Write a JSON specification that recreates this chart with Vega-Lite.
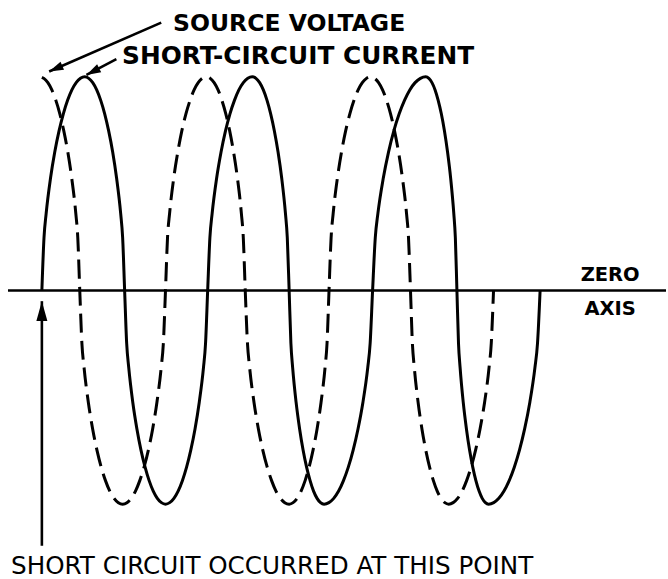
{
  "$schema": "https://vega.github.io/schema/vega-lite/v6.json",
  "width": 668,
  "height": 579,
  "autosize": {"type": "fit", "contains": "padding"},
  "padding": 0,
  "background": "white",
  "config": {"view": {"stroke": null}},
  "datasets": {
    "current": [
      {"t":0,"v":0},{"t":4.6,"v":0.247},{"t":9.3,"v":0.361},{"t":18.6,"v":0.524},{"t":27.9,"v":0.648},{"t":37.2,"v":0.747},{"t":46.5,"v":0.827},{"t":55.7,"v":0.89},{"t":65.0,"v":0.939},{"t":74.3,"v":0.973},{"t":83.6,"v":0.993},{"t":92.9,"v":1},
      {"t":101.5,"v":0.993},{"t":110.2,"v":0.973},{"t":118.8,"v":0.939},{"t":127.5,"v":0.89},{"t":136.1,"v":0.827},{"t":144.7,"v":0.747},{"t":153.4,"v":0.648},{"t":162.0,"v":0.524},{"t":170.7,"v":0.361},{"t":175.0,"v":0.247},{"t":179.3,"v":0},
      {"t":183.7,"v":-0.247},{"t":188.2,"v":-0.361},{"t":197.0,"v":-0.524},{"t":205.9,"v":-0.648},{"t":214.7,"v":-0.747},{"t":223.6,"v":-0.827},{"t":232.4,"v":-0.89},{"t":241.3,"v":-0.939},{"t":250.1,"v":-0.973},{"t":259.0,"v":-0.993},{"t":267.8,"v":-1},
      {"t":276.9,"v":-0.993},{"t":286.1,"v":-0.973},{"t":295.2,"v":-0.939},{"t":304.4,"v":-0.89},{"t":313.5,"v":-0.827},{"t":322.6,"v":-0.747},{"t":331.8,"v":-0.648},{"t":340.9,"v":-0.524},{"t":350.1,"v":-0.361},{"t":354.6,"v":-0.247},{"t":359.2,"v":0},
      {"t":364.0,"v":0.247},{"t":368.9,"v":0.361},{"t":378.5,"v":0.524},{"t":388.2,"v":0.648},{"t":397.8,"v":0.747},{"t":407.5,"v":0.827},{"t":417.2,"v":0.89},{"t":426.8,"v":0.939},{"t":436.5,"v":0.973},{"t":446.1,"v":0.993},{"t":455.8,"v":1},
      {"t":463.8,"v":0.993},{"t":471.8,"v":0.973},{"t":479.8,"v":0.939},{"t":487.8,"v":0.89},{"t":495.7,"v":0.827},{"t":503.7,"v":0.747},{"t":511.7,"v":0.648},{"t":519.7,"v":0.524},{"t":527.7,"v":0.361},{"t":531.7,"v":0.247},{"t":535.7,"v":0},
      {"t":539.5,"v":-0.247},{"t":543.3,"v":-0.361},{"t":550.8,"v":-0.524},{"t":558.4,"v":-0.648},{"t":565.9,"v":-0.747},{"t":573.5,"v":-0.827},{"t":581.1,"v":-0.89},{"t":588.6,"v":-0.939},{"t":596.2,"v":-0.973},{"t":603.7,"v":-0.993},{"t":611.3,"v":-1},
      {"t":621.8,"v":-0.993},{"t":632.3,"v":-0.973},{"t":642.9,"v":-0.939},{"t":653.4,"v":-0.89},{"t":663.9,"v":-0.827},{"t":674.4,"v":-0.747},{"t":684.9,"v":-0.648},{"t":695.5,"v":-0.524},{"t":706.0,"v":-0.361},{"t":711.2,"v":-0.247},{"t":716.5,"v":0},
      {"t":722.3,"v":0.247},{"t":728.0,"v":0.361},{"t":739.5,"v":0.524},{"t":751.0,"v":0.648},{"t":762.5,"v":0.747},{"t":774.1,"v":0.827},{"t":785.6,"v":0.89},{"t":797.1,"v":0.939},{"t":808.6,"v":0.973},{"t":820.1,"v":0.993},{"t":831.6,"v":1},
      {"t":838.4,"v":0.993},{"t":845.1,"v":0.973},{"t":851.9,"v":0.939},{"t":858.6,"v":0.89},{"t":865.4,"v":0.827},{"t":872.2,"v":0.747},{"t":878.9,"v":0.648},{"t":885.7,"v":0.524},{"t":892.4,"v":0.361},{"t":895.8,"v":0.247},{"t":899.2,"v":0},
      {"t":902.6,"v":-0.247},{"t":906.1,"v":-0.361},{"t":912.9,"v":-0.524},{"t":919.8,"v":-0.648},{"t":926.6,"v":-0.747},{"t":933.5,"v":-0.827},{"t":940.3,"v":-0.89},{"t":947.2,"v":-0.939},{"t":954.0,"v":-0.973},{"t":960.9,"v":-0.993},{"t":967.7,"v":-1},
      {"t":978.9,"v":-0.993},{"t":990.0,"v":-0.973},{"t":1001.2,"v":-0.939},{"t":1012.4,"v":-0.89},{"t":1023.5,"v":-0.827},{"t":1034.7,"v":-0.747},{"t":1045.9,"v":-0.648},{"t":1057.1,"v":-0.524},{"t":1068.2,"v":-0.361},{"t":1073.8,"v":-0.247},{"t":1079.4,"v":0}
    ],
    "voltage": [
      {"t":0,"v":0.998},{"t":4.3,"v":0.993},{"t":13.0,"v":0.973},{"t":21.6,"v":0.939},{"t":30.3,"v":0.89},{"t":38.9,"v":0.827},{"t":47.5,"v":0.747},{"t":56.2,"v":0.648},{"t":64.8,"v":0.524},{"t":73.5,"v":0.361},{"t":77.8,"v":0.247},{"t":82.1,"v":0},
      {"t":86.7,"v":-0.247},{"t":91.4,"v":-0.361},{"t":100.7,"v":-0.524},{"t":110.0,"v":-0.648},{"t":119.3,"v":-0.747},{"t":128.6,"v":-0.827},{"t":137.8,"v":-0.89},{"t":147.1,"v":-0.939},{"t":156.4,"v":-0.973},{"t":165.7,"v":-0.993},{"t":175.0,"v":-1},
      {"t":184.3,"v":-0.993},{"t":193.6,"v":-0.973},{"t":202.8,"v":-0.939},{"t":212.1,"v":-0.89},{"t":221.4,"v":-0.827},{"t":230.7,"v":-0.747},{"t":240.0,"v":-0.648},{"t":249.2,"v":-0.524},{"t":258.5,"v":-0.361},{"t":263.2,"v":-0.247},{"t":267.8,"v":0},
      {"t":272.2,"v":0.247},{"t":276.7,"v":0.361},{"t":285.5,"v":0.524},{"t":294.4,"v":0.648},{"t":303.2,"v":0.747},{"t":312.1,"v":0.827},{"t":321.0,"v":0.89},{"t":329.8,"v":0.939},{"t":338.7,"v":0.973},{"t":347.5,"v":0.993},{"t":356.4,"v":1},
      {"t":364.8,"v":0.993},{"t":373.2,"v":0.973},{"t":381.7,"v":0.939},{"t":390.1,"v":0.89},{"t":398.5,"v":0.827},{"t":406.9,"v":0.747},{"t":415.3,"v":0.648},{"t":423.8,"v":0.524},{"t":432.2,"v":0.361},{"t":436.4,"v":0.247},{"t":440.6,"v":0},
      {"t":445.4,"v":-0.247},{"t":450.1,"v":-0.361},{"t":459.6,"v":-0.524},{"t":469.1,"v":-0.648},{"t":478.6,"v":-0.747},{"t":488.2,"v":-0.827},{"t":497.7,"v":-0.89},{"t":507.2,"v":-0.939},{"t":516.7,"v":-0.973},{"t":526.2,"v":-0.993},{"t":535.7,"v":-1},
      {"t":544.3,"v":-0.993},{"t":553.0,"v":-0.973},{"t":561.6,"v":-0.939},{"t":570.3,"v":-0.89},{"t":578.9,"v":-0.827},{"t":587.5,"v":-0.747},{"t":596.2,"v":-0.648},{"t":604.8,"v":-0.524},{"t":613.5,"v":-0.361},{"t":617.8,"v":-0.247},{"t":622.1,"v":0},
      {"t":626.6,"v":0.247},{"t":631.1,"v":0.361},{"t":640.1,"v":0.524},{"t":649.1,"v":0.648},{"t":658.1,"v":0.747},{"t":667.2,"v":0.827},{"t":676.2,"v":0.89},{"t":685.2,"v":0.939},{"t":694.2,"v":0.973},{"t":703.2,"v":0.993},{"t":712.2,"v":1},
      {"t":720.8,"v":0.993},{"t":729.5,"v":0.973},{"t":738.1,"v":0.939},{"t":746.8,"v":0.89},{"t":755.4,"v":0.827},{"t":764.0,"v":0.747},{"t":772.7,"v":0.648},{"t":781.3,"v":0.524},{"t":790.0,"v":0.361},{"t":794.3,"v":0.247},{"t":798.6,"v":0},
      {"t":802.7,"v":-0.247},{"t":806.9,"v":-0.361},{"t":815.1,"v":-0.524},{"t":823.4,"v":-0.648},{"t":831.7,"v":-0.747},{"t":840.0,"v":-0.827},{"t":848.2,"v":-0.89},{"t":856.5,"v":-0.939},{"t":864.8,"v":-0.973},{"t":873.0,"v":-0.993},{"t":881.3,"v":-1},
      {"t":891.0,"v":-0.993},{"t":900.7,"v":-0.973},{"t":910.5,"v":-0.939},{"t":920.2,"v":-0.89},{"t":929.9,"v":-0.827},{"t":939.6,"v":-0.747},{"t":949.3,"v":-0.648},{"t":959.1,"v":-0.524},{"t":968.8,"v":-0.361},{"t":973.6,"v":-0.247},{"t":978.5,"v":0}
    ],
    "zeroaxis": [{"t":-73.4,"t2":1352.16,"v":0}],
    "arrows": [
      {"id":"source","t":15.8,"v":1.0248,"t2":258.6,"v2":1.2537},
      {"id":"current","t":96.6,"v":1.0093,"t2":161.4,"v2":1.0827},
      {"id":"fault","t":0,"v":-0.05,"t2":0,"v2":-1.1949}
    ],
    "labels": [
      {"id":"sv","label":"SOURCE VOLTAGE","t":535.7,"v":1.2126},
      {"id":"scc","label":"SHORT-CIRCUIT CURRENT","t":555.1,"v":1.0593},
      {"id":"axis","label":"ZERO","t":1231.2,"v":0.0435},
      {"id":"axis","label":"AXIS","t":1231.2,"v":-0.1168},
      {"id":"bottom","label":"SHORT CIRCUIT OCCURRED AT THIS POINT","t":498.96,"v":-1.3271}
    ]
  },
  "encoding": {
    "x": {"field": "t", "type": "quantitative", "scale": {"domain": [-90.72, 1352.16], "nice": false, "zero": false}, "axis": null},
    "y": {"field": "v", "type": "quantitative", "scale": {"domain": [-1.3458, 1.3598], "nice": false, "zero": false}, "axis": null}
  },
  "layer": [
    {
      "data": {"name": "zeroaxis"},
      "mark": {"type": "rule", "color": "black", "strokeWidth": 2.6},
      "encoding": {"x2": {"field": "t2"}}
    },
    {
      "data": {"name": "current"},
      "mark": {"type": "line", "color": "black", "strokeWidth": 3, "interpolate": "monotone"},
      "encoding": {}
    },
    {
      "data": {"name": "voltage"},
      "mark": {"type": "line", "color": "black", "strokeWidth": 3, "interpolate": "monotone", "strokeDash": [19, 8]},
      "encoding": {}
    },
    {
      "data": {"name": "arrows"},
      "mark": {"type": "rule", "color": "black", "strokeWidth": 2.6},
      "encoding": {"x2": {"field": "t2"}, "y2": {"field": "v2"}}
    },
    {
      "data": {"name": "arrows"},
      "transform": [{"filter": "datum.id === 'source'"}],
      "mark": {"type": "point", "shape": "M0,0L-0.8,2.6L0.8,2.6Z", "size": 121, "filled": true, "color": "black", "opacity": 1, "angle": 246.4}
    },
    {
      "data": {"name": "arrows"},
      "transform": [{"filter": "datum.id === 'current'"}],
      "mark": {"type": "point", "shape": "M0,0L-0.8,2.6L0.8,2.6Z", "size": 121, "filled": true, "color": "black", "opacity": 1, "angle": 242.4}
    },
    {
      "data": {"name": "arrows"},
      "transform": [{"filter": "datum.id === 'fault'"}],
      "mark": {"type": "point", "shape": "M0,0L-1,3.6L1,3.6Z", "size": 121, "filled": true, "color": "black", "opacity": 1, "angle": 0}
    },
    {
      "data": {"name": "labels"},
      "transform": [{"filter": "datum.id === 'sv'"}],
      "mark": {"type": "text", "font": "DejaVu Sans", "fontWeight": "bold", "fontSize": 23.5, "align": "center", "baseline": "alphabetic", "color": "black"},
      "encoding": {"text": {"field": "label"}}
    },
    {
      "data": {"name": "labels"},
      "transform": [{"filter": "datum.id === 'scc'"}],
      "mark": {"type": "text", "font": "DejaVu Sans", "fontWeight": "bold", "fontSize": 24.8, "align": "center", "baseline": "alphabetic", "color": "black"},
      "encoding": {"text": {"field": "label"}}
    },
    {
      "data": {"name": "labels"},
      "transform": [{"filter": "datum.id === 'axis'"}],
      "mark": {"type": "text", "font": "DejaVu Sans", "fontWeight": "bold", "fontSize": 19.5, "align": "center", "baseline": "alphabetic", "color": "black"},
      "encoding": {"text": {"field": "label"}}
    },
    {
      "data": {"name": "labels"},
      "transform": [{"filter": "datum.id === 'bottom'"}],
      "mark": {"type": "text", "font": "DejaVu Sans", "fontSize": 24.6, "align": "center", "baseline": "alphabetic", "color": "black"},
      "encoding": {"text": {"field": "label"}}
    }
  ]
}
